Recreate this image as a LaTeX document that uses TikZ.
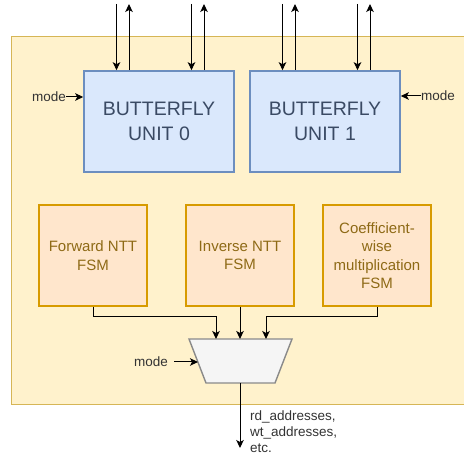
\documentclass[tikz,border=0pt]{standalone}
\usepackage{fontspec}
\setmainfont{Liberation Sans}
\usetikzlibrary{arrows.meta,positioning,calc}
\definecolor{bgfill}{HTML}{FFF2CC}
\definecolor{bgline}{HTML}{D6B656}
\definecolor{bufill}{HTML}{DAE8FC}
\definecolor{buline}{HTML}{6C8EBF}
\definecolor{butext}{HTML}{3A4A64}
\definecolor{fsmfill}{HTML}{FFE6CC}
\definecolor{fsmline}{HTML}{D79B00}
\definecolor{fsmtext}{HTML}{8E6A16}
\definecolor{muxfill}{HTML}{F5F5F5}
\definecolor{muxline}{HTML}{8A8A8A}
\tikzset{
  bubox/.style={draw=buline, fill=bufill, line width=1.6pt, minimum width=150pt, minimum height=101pt, inner sep=0pt, align=center, text=butext, font=\fontsize{19.5}{25}\selectfont},
  fsmbox/.style={draw=fsmline, fill=fsmfill, line width=1.6pt, minimum width=108pt, minimum height=101pt, inner sep=0pt, align=center, text=fsmtext, font=\fontsize{15}{18.3}\selectfont},
  small/.style={font=\fontsize{13.5}{16}\selectfont, text=black!80, inner sep=0pt},
  sig/.style={draw=black, line width=1pt, -{Stealth[length=8pt,width=7.5pt,inset=2pt]}},
}
\begin{document}
\begin{tikzpicture}[x=1pt,y=-1pt]
\useasboundingbox (0,0) rectangle (464,457);
% background
\draw[draw=bgline, fill=bgfill, line width=1pt] (11,37) rectangle (470,405);
% butterfly units
\node[bubox] (bu0) at (159,121.5) {BUTTERFLY\\UNIT 0};
\node[bubox] (bu1) at (325,121.5) {BUTTERFLY\\UNIT 1};
% top connectors
\foreach \u/\dx in {bu0/-42.5, bu0/32.5, bu1/-42.5, bu1/32.5}{
  \coordinate (tin) at ($(\u.north)+(\dx,0)$);
  \coordinate (tout) at ($(\u.north)+(\dx+12.5,0)$);
  \coordinate (topa) at (tin |- 0,4);
  \coordinate (topb) at (tout |- 0,4);
  \draw[sig] (topa) -- (tin);
  \draw[sig] (tout) -- (topb);
}
% mode inputs
\node[small, anchor=east] (m0) at (66,97) {mode};
\draw[sig] (m0.east) -- (bu0.west |- m0.east);
\node[small, anchor=west] (m1) at (421,96) {mode};
\draw[sig] (m1.west) -- (bu1.east |- m1.west);
% FSMs
\node[fsmbox] (fwd) at (93,255.5) {Forward NTT\\FSM};
\node[fsmbox] (inv) at (240,255.5) {Inverse NTT\\FSM};
\node[fsmbox] (cwm) at (377,255.5) {Coefficient-\\wise\\multiplication\\FSM};
% mux
\draw[draw=muxline, fill=muxfill, line width=1.4pt] (189,339) -- (292,339) -- (275,383) -- (206,383) -- cycle;
\coordinate (mux) at (240,361);
\coordinate (muxa) at (216,339);
\coordinate (muxb) at (240,339);
\coordinate (muxc) at (266,339);
\coordinate (muxl) at (198,362);
\coordinate (muxo) at (240,383);
\draw[sig] (fwd.south) |- (216,317) -- (muxa);
\draw[sig] (inv.south) -- (muxb);
\draw[sig] (cwm.south) |- (266,317) -- (muxc);
\node[small, anchor=east] (m2) at (168,362) {mode};
\draw[sig] (174,362) -- (muxl);
% output
\coordinate (outend) at (240,448);
\draw[sig] (muxo) -- (outend);
\node[small, anchor=west, align=left] (outl) at (250,431.5) {rd\_addresses,\\wt\_addresses,\\etc.};
\end{tikzpicture}
\end{document}
